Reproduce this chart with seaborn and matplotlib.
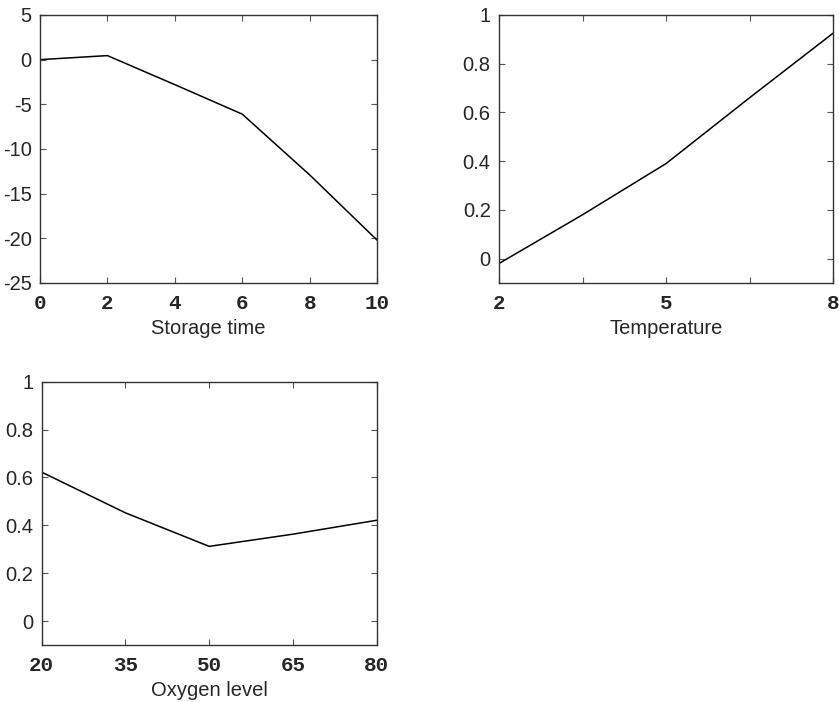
import numpy as np
import pandas as pd
import matplotlib
matplotlib.use("Agg")
import matplotlib.pyplot as plt
import seaborn as sns

# values
storage_time = [0, 2, 4, 6, 8, 10]
storage_effect = [0.0, 0.45, -2.8, -6.1, -12.9, -20.2]

temperature = [2, 3.5, 5, 6.5, 8]
temperature_effect = [-0.02, 0.18, 0.39, 0.66, 0.925]

oxygen_level = [20, 35, 50, 65, 80]
oxygen_effect = [0.622, 0.452, 0.312, 0.363, 0.421]

sns.set_style("ticks")
plt.rcParams["font.family"] = ["Liberation Sans", "DejaVu Sans"]
plt.rcParams["axes.unicode_minus"] = False

fig = plt.figure(figsize=(8.39, 7.02), dpi=100)
ax1 = fig.add_axes([0.0477, 0.5969, 0.4017, 0.3818])
ax2 = fig.add_axes([0.5948, 0.5969, 0.3981, 0.3818])
ax3 = fig.add_axes([0.0497, 0.0812, 0.3993, 0.3751])

panels = [
    (ax1, storage_time, storage_effect, "Storage time"),
    (ax2, temperature, temperature_effect, "Temperature"),
    (ax3, oxygen_level, oxygen_effect, "Oxygen level"),
]

for ax, x, y, label in panels:
    df = pd.DataFrame({"x": x, "y": y})
    sns.lineplot(data=df, x="x", y="y", ax=ax, color="black", linewidth=1.1)
    ax.set_xlabel(label, fontsize=14.5, labelpad=4)
    ax.set_ylabel("")
    ax.tick_params(direction="in", top=True, right=True, length=4, width=0.8,
                   color="#555555")
    ax.tick_params(axis="x", pad=8)
    ax.tick_params(axis="y", pad=6)
    for side in ax.spines.values():
        side.set_linewidth(1.0)
        side.set_color("#333333")

ax1.set_xlim(0, 10)
ax1.set_ylim(-25, 5)
ax1.set_xticks([0, 2, 4, 6, 8, 10])
ax1.set_yticks([-25, -20, -15, -10, -5, 0, 5])

ax2.set_xlim(2, 8)
ax2.set_ylim(-0.1, 1)
ax2.set_xticks([2, 3.5, 5, 6.5, 8])
ax2.set_xticklabels(["2", "", "5", "", "8"])
ax2.set_yticks([0, 0.2, 0.4, 0.6, 0.8, 1])
ax2.set_yticklabels(["0", "0.2", "0.4", "0.6", "0.8", "1"])

ax3.set_xlim(20, 80)
ax3.set_ylim(-0.1, 1)
ax3.set_xticks([20, 35, 50, 65, 80])
ax3.set_yticks([0, 0.2, 0.4, 0.6, 0.8, 1])
ax3.set_yticklabels(["0", "0.2", "0.4", "0.6", "0.8", "1"])

for ax in (ax1, ax2, ax3):
    for t in ax.get_xticklabels():
        t.set_fontfamily("Liberation Mono")
        t.set_fontweight("bold")
        t.set_fontsize(15)
    for t in ax.get_yticklabels():
        t.set_fontsize(14.5)

fig.savefig("out.png", dpi=100)
